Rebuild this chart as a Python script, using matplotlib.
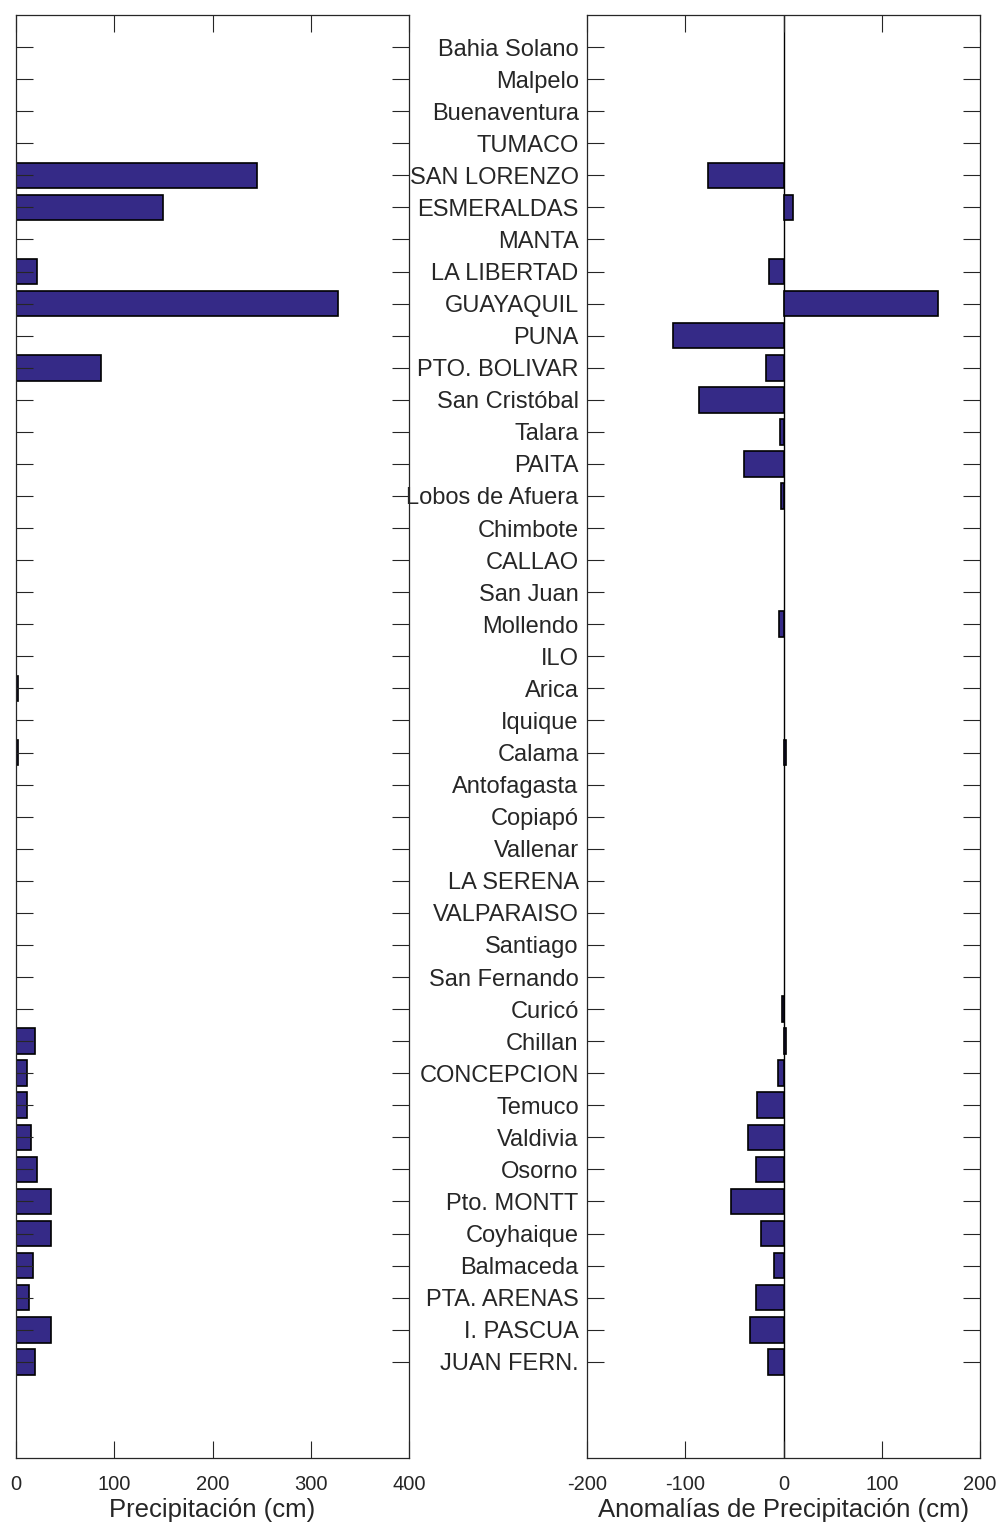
import numpy as np
import matplotlib
matplotlib.use('Agg')
import matplotlib.pyplot as plt

plt.rcParams['font.family'] = ['Liberation Sans', 'DejaVu Sans']
plt.rcParams['axes.unicode_minus'] = False

stations = ['Bahia Solano', 'Malpelo', 'Buenaventura', 'TUMACO', 'SAN LORENZO',
            'ESMERALDAS', 'MANTA', 'LA LIBERTAD', 'GUAYAQUIL', 'PUNA',
            'PTO. BOLIVAR', 'San Cristóbal', 'Talara', 'PAITA', 'Lobos de Afuera',
            'Chimbote', 'CALLAO', 'San Juan', 'Mollendo', 'ILO', 'Arica',
            'Iquique', 'Calama', 'Antofagasta', 'Copiapó', 'Vallenar',
            'LA SERENA', 'VALPARAISO', 'Santiago', 'San Fernando', 'Curicó',
            'Chillan', 'CONCEPCION', 'Temuco', 'Valdivia', 'Osorno',
            'Pto. MONTT', 'Coyhaique', 'Balmaceda', 'PTA. ARENAS', 'I. PASCUA',
            'JUAN FERN.']

# precipitation (cm)
precip = [0, 0, 0, 0, 245,
          150, 0, 21, 328, 0,
          87, 0, 0, 0, 0,
          0, 0, 0, 0, 0, 2.5,
          0, 2, 0, 0, 0,
          0, 0, 0, 0, 0,
          19, 11, 11, 15, 21,
          36, 36, 17, 13, 36,
          19]

# anomalies (cm)
anom = [0, 0, 0, 0, -77,
        10, 0, -14.5, 157.5, -112,
        -18, -86, -4, -40.5, -2.5,
        0, 0, 0, -4.5, 0, 0,
        0, 2.4, 0, 0, 0,
        0, 0, 0, 0, -2,
        2.5, -6, -26.5, -36.5, -28,
        -53, -22.5, -10, -28, -34,
        -16]

ypos = np.arange(1, len(stations) + 1)
precip = np.array(precip)
anom = np.array(anom)
bar_color = '#352a87'
txt = '#262626'

fig = plt.figure(figsize=(10.03, 15.26), dpi=100)
ax1 = fig.add_axes([16/1003, 68/1526, 393/1003, 1443/1526])
ax2 = fig.add_axes([587/1003, 68/1526, 393/1003, 1443/1526])

# zero-length bars are not drawn
m1 = precip != 0
m2 = anom != 0
ax1.barh(ypos[m1], precip[m1], height=0.8, color=bar_color, edgecolor='black', linewidth=1.2)
ax2.axvline(0, color='black', linewidth=1, zorder=1)
ax2.barh(ypos[m2], anom[m2], height=0.8, color=bar_color, edgecolor='black', linewidth=1.2, zorder=2)

ax1.set_xlim(0, 400)
ax2.set_xlim(-200, 200)
for ax in (ax1, ax2):
    ax.set_ylim(45, 0)
    ax.set_yticks(ypos)
    ax.tick_params(direction='in', length=12, width=0.8, color=txt,
                   top=True, right=True, labelsize=14.5, labelcolor=txt)
    ax.tick_params(axis='x', pad=12)
    for sp in ax.spines.values():
        sp.set_color(txt)
        sp.set_linewidth(0.9)

ax1.set_xticks([0, 100, 200, 300, 400])
ax2.set_xticks([-200, -100, 0, 100, 200])
ax1.set_yticklabels([])
ax2.set_yticklabels(stations, fontsize=17)
ax2.tick_params(axis='y', pad=6)

ax1.set_xlabel('Precipitación (cm)', fontsize=18.5, color=txt, labelpad=3)
ax2.set_xlabel('Anomalías de Precipitación (cm)', fontsize=18.5, color=txt, labelpad=3)

fig.savefig('out.png', dpi=100)
